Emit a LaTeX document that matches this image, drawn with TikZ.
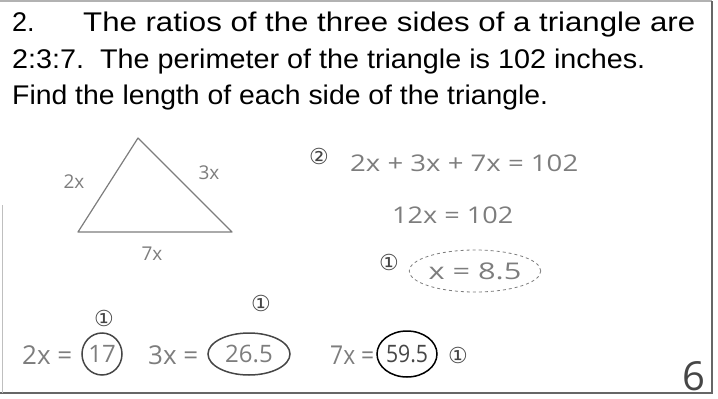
\documentclass[tikz,border=0pt]{standalone}
\usepackage{fontspec}
\usetikzlibrary{shapes.geometric}
\setmainfont{Liberation Sans}
\newfontfamily\hand{Open Sans}
\newfontfamily\djv{DejaVu Sans}
\definecolor{pencil}{RGB}{125,125,125}
\definecolor{darkpencil}{RGB}{70,70,70}
\newcommand{\fitw}[2]{\resizebox{#1}{\height}{#2}}
\tikzset{
  title/.style={anchor=base west, inner sep=0pt, font=\fontsize{27}{27}\selectfont, text=black},
  handtext/.style={inner sep=0pt, text=pencil, font=\hand\fontsize{23}{23}\selectfont},
  bighand/.style={inner sep=0pt, anchor=west, text=pencil, font=\hand\fontsize{26}{26}\selectfont},
  smallhand/.style={inner sep=0pt, text=pencil, font=\hand\fontsize{19}{19}\selectfont},
  mark1/.style={inner sep=0pt, text=darkpencil, font=\djv\fontsize{22}{22}\selectfont},
  handline/.style={draw=pencil, line width=1.2pt, line join=round},
  ring/.style={ellipse, draw=darkpencil, line width=1.5pt, inner sep=0pt, text=pencil, font=\hand\fontsize{24}{24}\selectfont},
  frame/.style={draw=gray!80!black, line width=1.6pt}
}
\begin{document}
\begin{tikzpicture}[x=1pt,y=-1pt]
\useasboundingbox (0,0) rectangle (718,399);
% frame
\coordinate (TL) at (0,1);
\coordinate (TR) at (712,1);
\coordinate (BR) at (712,393);
\coordinate (BL) at (0,393);
\coordinate (LM) at (2,205);
\coordinate (LB) at (2,393);
\draw[frame, draw=gray!60] (TL) -- (TR);
\draw[frame] (TR) -- (BR) -- (BL);
\draw[frame, draw=gray!50, line width=1pt] (LM) -- (LB);
% problem text
\node[title] (num) at (12,31) {2.};
\node[title] (l1) at (83,31) {\fitw{612pt}{The ratios of the three sides of a triangle are}};
\node[title] (l2) at (12,68) {\fitw{633pt}{2:3:7.\ \ The perimeter of the triangle is 102 inches.}};
\node[title] (l3) at (12,104) {\fitw{536pt}{Find the length of each side of the triangle.}};
% triangle
\coordinate (A) at (78,232);
\coordinate (B) at (138,138);
\coordinate (C) at (232,232);
\draw[handline] (A) -- (B) -- (C) -- cycle;
\node[smallhand] (s2) at (74,182) {2x};
\node[smallhand] (s3) at (209,173) {3x};
\node[smallhand] (s7) at (152,254) {7x};
% work
\node[mark1] (m2) at (319,156) {②};
\node[handtext, anchor=west] (eq1) at (350,163) {\fitw{228pt}{2x + 3x + 7x = 102}};
\node[handtext, anchor=west] (eq2) at (392,215) {\fitw{121pt}{12x = 102}};
\node[mark1] (m1a) at (389,262) {①};
\node[ellipse, draw=pencil, dashed, line width=0.8pt, inner sep=0pt, minimum width=118pt, minimum height=42pt, text=pencil, font=\hand\fontsize{23}{23}\selectfont] (xv) at (475,271) {\fitw{93pt}{x = 8.5}};
% bottom row
\node[mark1] (m1b) at (104,318) {①};
\node[mark1] (m1c) at (261,303) {①};
\node[bighand] (b2) at (22,355) {2x =};
\node[ring, minimum width=40pt, minimum height=42pt] (r17) at (102,354) {17};
\node[bighand] (b3) at (148,355) {3x =};
\node[ring, minimum width=82pt, minimum height=42pt] (r26) at (249,354) {26.5};
\node[bighand] (b7) at (330,355) {\fitw{44pt}{7x =}};
\node[ring, draw=black, minimum width=60pt, minimum height=46pt, text=darkpencil] (r59) at (407,354) {\fitw{42pt}{59.5}};
\node[mark1] (m1d) at (458,355) {①};
\node[inner sep=0pt, text=darkpencil, font=\hand\fontsize{40}{40}\selectfont] (six) at (694,376) {6};
\end{tikzpicture}
\end{document}
